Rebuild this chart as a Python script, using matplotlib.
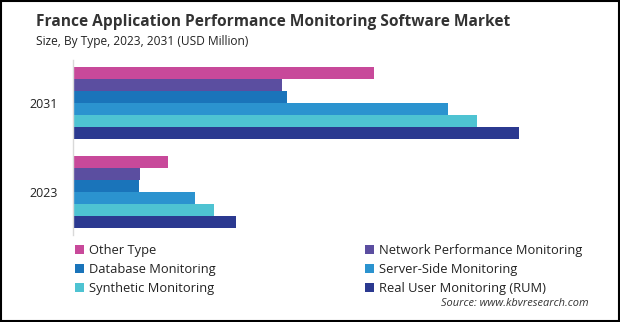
import matplotlib.pyplot as plt
from matplotlib.patches import Patch, Rectangle

plt.rcParams['font.family'] = ['Open Sans', 'DejaVu Sans']

years = ['2023', '2031']
segments = ['Other Type', 'Network Performance Monitoring', 'Database Monitoring',
            'Server-Side Monitoring', 'Synthetic Monitoring', 'Real User Monitoring (RUM)']
values_2023 = [9.5, 6.7, 6.6, 12.2, 14.1, 16.3]
values_2031 = [30.1, 20.9, 21.4, 37.5, 40.4, 44.6]
colors = ['#C8499A', '#5B4EA0', '#1A74BA', '#2B93CF', '#4EC3D2', '#2B3990']

fig = plt.figure(figsize=(6.2, 3.22), dpi=100)
ax = fig.add_axes([73 / 620, 1 - 235 / 322, 500 / 620, 175 / 322])

bar_h = 12 / 89.5
for i, (seg, col) in enumerate(zip(segments, colors)):
    off = (2.5 - i) * bar_h
    ax.barh([0 + off, 1 + off], [values_2023[i], values_2031[i]],
            height=bar_h, color=col, label=seg)

ax.set_xlim(0, 50)
ax.set_ylim(-0.48, 1.475)
ax.set_yticks([0, 1])
ax.set_yticklabels(years, fontsize=9, color='#222222')
ax.tick_params(axis='y', length=0, pad=11)
ax.set_xticks([])
for s in ['top', 'right', 'bottom']:
    ax.spines[s].set_visible(False)
ax.spines['left'].set_color('#D9D9D9')
ax.spines['left'].set_linewidth(1)

fig.text(36 / 620, 1 - 22 / 322, 'France Application Performance Monitoring Software Market',
         fontsize=11.2, fontweight='bold', color='#333333', va='center')
fig.text(36 / 620, 1 - 42 / 322, 'Size, By Type, 2023, 2031 (USD Million)',
         fontsize=8.6, color='#222222', va='center')

# two-column legend, drawn as two separate single-column legends
handles = [Patch(facecolor=c, edgecolor='none') for c in colors]
for col_idx, x0 in [(0, 70), (1, 360)]:
    idx = [col_idx, col_idx + 2, col_idx + 4]
    leg = fig.legend([handles[k] for k in idx], [segments[k] for k in idx],
                     loc='upper left', bbox_to_anchor=(x0 / 620, 1 - 239 / 322),
                     frameon=False, fontsize=9.3, handlelength=0.7, handleheight=0.7,
                     handletextpad=0.4, labelspacing=0.47, borderaxespad=0,
                     labelcolor='#222222')

fig.text(589 / 620, 1 - 304 / 322, 'Source: www.kbvresearch.com',
         fontsize=7.9, style='italic', color='#333333', ha='right', va='center')

fig.patches.append(Rectangle((0.001, 0.002), 0.997, 0.995, transform=fig.transFigure,
                             fill=False, edgecolor='black', linewidth=1.5))

fig.savefig('out.png', dpi=100)
